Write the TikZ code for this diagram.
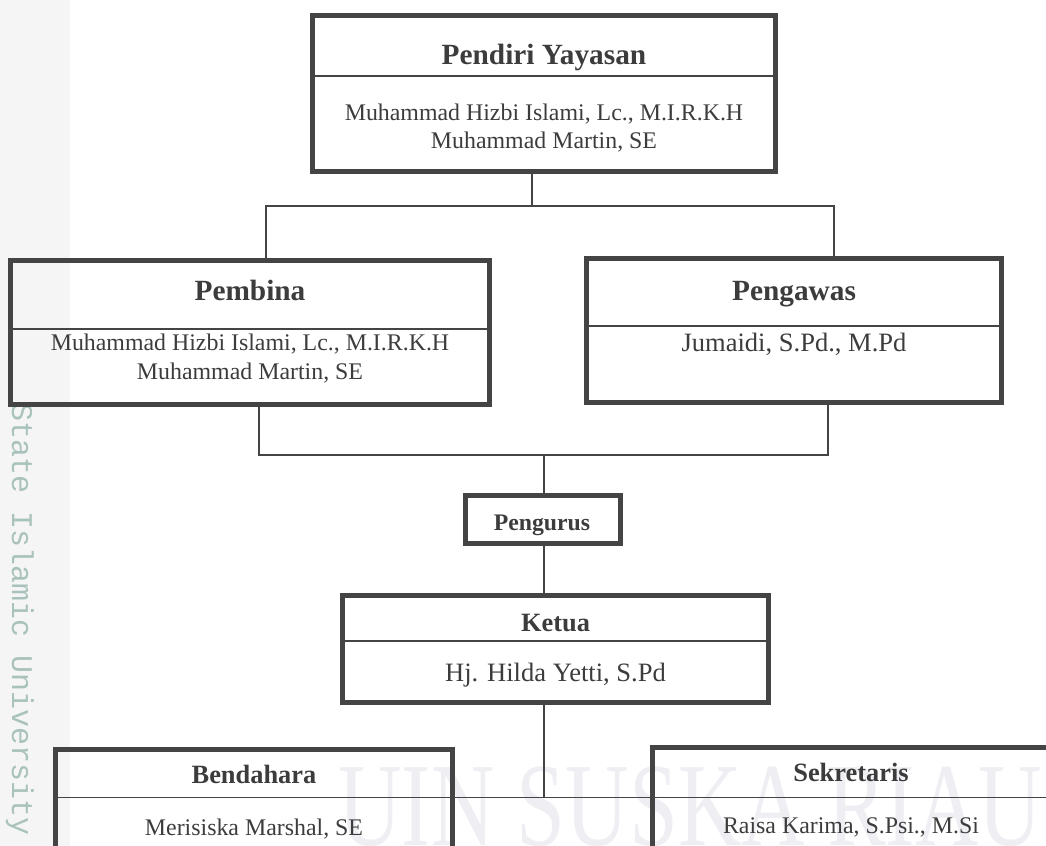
\documentclass[tikz,border=0pt]{standalone}
\usepackage{fontspec}
\setmainfont{Liberation Serif}
\newfontfamily\wmmono{Liberation Mono}
\definecolor{ln}{HTML}{444444}
\definecolor{tx}{HTML}{3C3C3C}
\definecolor{wmteal}{HTML}{A9C2BC}
\definecolor{wmpale}{HTML}{EEEEF3}
\tikzset{
  box/.style={draw=ln, line width=3.75pt, rectangle, inner sep=0pt},
  divl/.style={draw=ln, line width=1.4pt},
  conn/.style={draw=ln, line width=1.4pt},
  ttl/.style={anchor=base, text=tx, inner sep=0pt, font=\bfseries\fontsize{22}{26}\selectfont},
  ttlb/.style={anchor=base, text=tx, inner sep=0pt, font=\bfseries\fontsize{19.8}{24}\selectfont},
  nm/.style={anchor=base, text=tx, inner sep=0pt, font=\fontsize{17.9}{21}\selectfont},
  nmb/.style={anchor=base, text=tx, inner sep=0pt, font=\fontsize{19.9}{24}\selectfont},
}
\begin{document}
\begin{tikzpicture}[x=0.75pt,y=-0.75pt]
\useasboundingbox (0,0) rectangle (1046,846);
\clip (0,0) rectangle (1046,846);
% watermark
\fill[black!4] (0,0) rectangle (70,846);
\node[rotate=-90, text=wmteal, font=\wmmono\fontsize{22.5}{26}\selectfont] (wm1) at (20,620) {State Islamic University};
\node[anchor=base west, inner sep=0pt, text=wmpale, yscale=1.35, font=\fontsize{66}{70}\selectfont] (wm2) at (338,845) {UIN SUSKA RIAU};

% boxes
\node[box, minimum width=463*0.75pt, minimum height=156*0.75pt] (pendiri) at (544,93.5) {};
\node[box, minimum width=479*0.75pt, minimum height=144*0.75pt] (pembina) at (250,332.5) {};
\node[box, minimum width=415*0.75pt, minimum height=144*0.75pt] (pengawas) at (794,330.5) {};
\node[box, minimum width=155*0.75pt, minimum height=48*0.75pt] (pengurus) at (543,519.5) {};
\node[box, minimum width=426*0.75pt, minimum height=107*0.75pt] (ketua) at (555.5,649) {};
\node[box, minimum width=397*0.75pt, minimum height=200.5*0.75pt] (bendahara) at (254,849.75) {};
\node[box, minimum width=397*0.75pt, minimum height=202.5*0.75pt] (sekretaris) at (851,848.75) {};

% dividers
\coordinate (d1) at (0,76);
\coordinate (d2) at (0,329);
\coordinate (d3) at (0,326);
\coordinate (d4) at (0,641);
\coordinate (d5) at (0,797.5);
\draw[divl] (pendiri.west |- d1) -- (pendiri.east |- d1);
\draw[divl] (pembina.west |- d2) -- (pembina.east |- d2);
\draw[divl] (pengawas.west |- d3) -- (pengawas.east |- d3);
\draw[divl] (ketua.west |- d4) -- (ketua.east |- d4);
\draw[divl] (bendahara.west |- d5) -- (bendahara.east |- d5);
\draw[divl] (sekretaris.west |- d5) -- (sekretaris.east |- d5);

% texts
\node[ttl] (t1) at (544,64) {Pendiri Yayasan};
\node[nm] (n1a) at (544,120) {Muhammad Hizbi Islami, Lc., M.I.R.K.H};
\node[nm] (n1b) at (544,148) {Muhammad Martin, SE};
\node[ttl] (t2) at (250,300) {Pembina};
\node[nm] (n2a) at (250,350) {Muhammad Hizbi Islami, Lc., M.I.R.K.H};
\node[nm] (n2b) at (250,379) {Muhammad Martin, SE};
\node[ttl] (t3) at (794,300) {Pengawas};
\node[nmb] (n3) at (794,351) {Jumaidi, S.Pd., M.Pd};
\node[anchor=base, text=tx, inner sep=0pt, font=\bfseries\fontsize{17.8}{21}\selectfont] (t4) at (542,530) {Pengurus};
\node[ttlb] (t5) at (555.5,631) {Ketua};
\node[nmb] (n5) at (555.5,681) {Hj. Hilda Yetti, S.Pd};
\node[ttlb] (t6) at (254,783) {Bendahara};
\node[nm] (n6) at (254,835) {Merisiska Marshal, SE};
\node[ttlb] (t7) at (851,781) {Sekretaris};
\node[nm] (n7) at (851,833) {Raisa Karima, S.Psi., M.Si};

% connectors
\coordinate (j1) at (532,206);
\coordinate (j1l) at (266,206);
\coordinate (j1r) at (834,206);
\draw[conn] (pendiri.south -| j1) -- (j1);
\draw[conn] (pembina.north -| j1l) -- (j1l) -- (j1r) -- (pengawas.north -| j1r);
\coordinate (j2) at (544,455);
\coordinate (j2l) at (259,455);
\coordinate (j2r) at (828,455);
\draw[conn] (pembina.south -| j2l) -- (j2l) -- (j2r) -- (pengawas.south -| j2r);
\draw[conn] (j2) -- (pengurus.north -| j2);
\draw[conn] (pengurus.south -| j2) -- (ketua.north -| j2);
\coordinate (j3) at (544,797.5);
\draw[conn] (ketua.south -| j3) -- (j3);
\draw[conn] (bendahara.east |- j3) -- (sekretaris.west |- j3);
\end{tikzpicture}
\end{document}
